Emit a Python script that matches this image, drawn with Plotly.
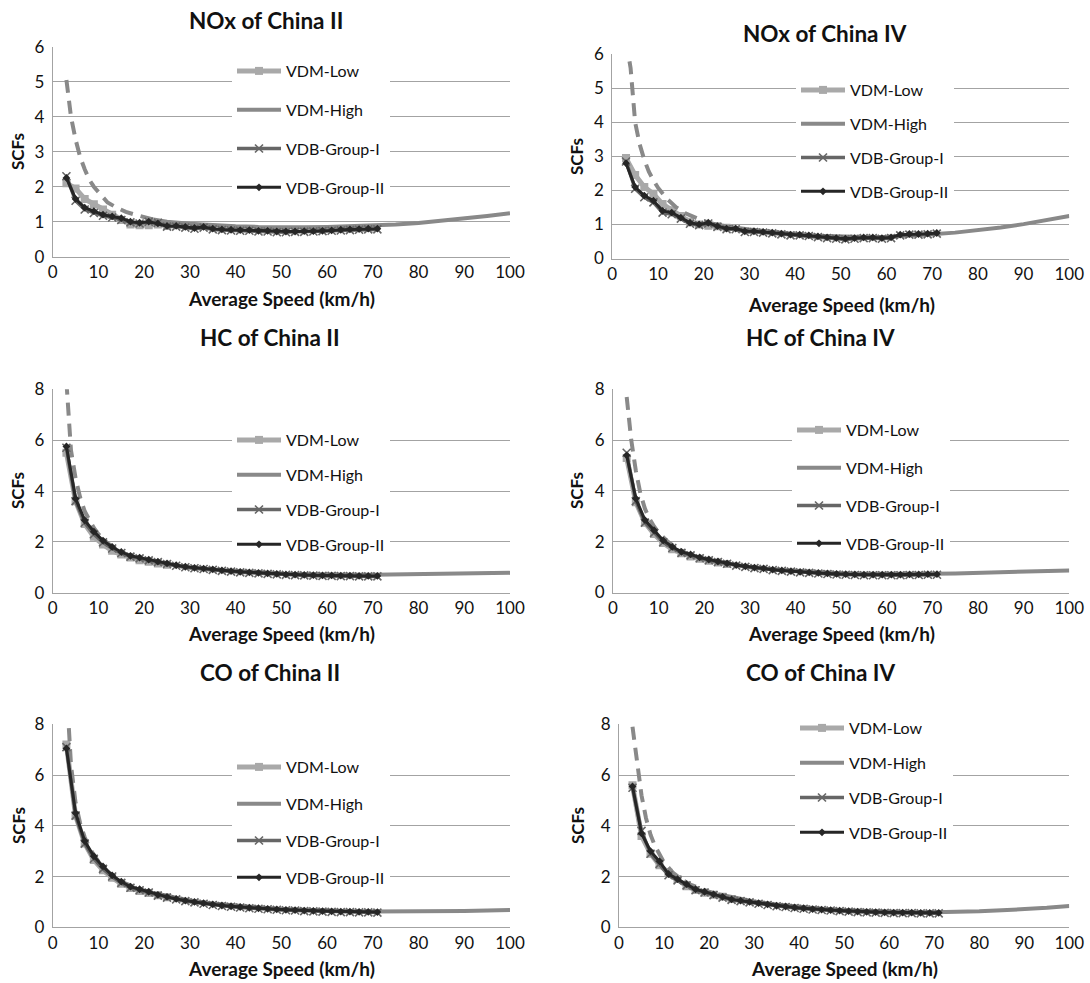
import plotly.graph_objects as go

# ---------------- data ----------------
speed_vdb = list(range(3, 72, 2))          # 3..71
speed_low = list(range(3, 26, 2))          # 3..25
speed_high = [3, 4, 5, 6, 7, 8, 9, 10, 12, 14, 16, 18, 20, 22, 25, 30, 35, 40,
              45, 50, 55, 60, 65, 70, 75, 80, 85, 90, 95, 100]

series_names = ["VDM-Low", "VDM-High", "VDB-Group-I", "VDB-Group-II"]

titles = ["NOx of China II", "NOx of China IV", "HC of China II",
          "HC of China IV", "CO of China II", "CO of China IV"]
y_max = [6, 6, 8, 8, 8, 8]
y_step = [1, 1, 2, 2, 2, 2]

# NOx China II
nox2_low = [2.1, 1.95, 1.65, 1.5, 1.35, 1.2, 1.05, 0.92, 0.9, 0.9, 0.92, 0.88]
nox2_high = [5.05, 4.0, 3.35, 2.85, 2.5, 2.2, 2.0, 1.85, 1.55, 1.4, 1.28, 1.2, 1.12, 1.06,
             1.0, 0.94, 0.9, 0.87, 0.85, 0.84, 0.84, 0.85, 0.87, 0.89, 0.92, 0.96, 1.02,
             1.09, 1.16, 1.24]
nox2_g1 = [2.3, 1.6, 1.35, 1.25, 1.17, 1.12, 1.05, 0.98, 0.95, 1.0, 0.97, 0.86, 0.86, 0.83,
           0.8, 0.83, 0.78, 0.76, 0.75, 0.74, 0.74, 0.72, 0.72, 0.7, 0.7, 0.71, 0.71, 0.72,
           0.73, 0.74, 0.75, 0.76, 0.77, 0.78, 0.78]
nox2_g2 = [2.25, 1.65, 1.4, 1.3, 1.2, 1.15, 1.1, 1.0, 0.97, 1.0, 0.95, 0.88, 0.88, 0.85,
           0.82, 0.85, 0.8, 0.78, 0.77, 0.76, 0.76, 0.74, 0.74, 0.72, 0.72, 0.72, 0.73,
           0.73, 0.74, 0.75, 0.77, 0.78, 0.79, 0.8, 0.8]

# NOx China IV
nox4_low = [2.95, 2.45, 2.1, 1.9, 1.6, 1.42, 1.25, 1.08, 1.0, 0.96, 0.95, 0.9]
nox4_high = [6.4, 5.6, 4.0, 3.35, 2.9, 2.55, 2.3, 2.08, 1.75, 1.5, 1.33, 1.2, 1.1, 1.02,
             0.94, 0.85, 0.78, 0.72, 0.67, 0.64, 0.63, 0.64, 0.67, 0.71, 0.76, 0.83, 0.91,
             1.01, 1.12, 1.25]
nox4_g1 = [2.85, 2.05, 1.8, 1.65, 1.35, 1.3, 1.17, 1.02, 0.98, 1.03, 0.93, 0.86, 0.86, 0.78,
           0.78, 0.76, 0.74, 0.71, 0.68, 0.68, 0.66, 0.63, 0.6, 0.58, 0.56, 0.58, 0.6, 0.6,
           0.58, 0.6, 0.68, 0.7, 0.7, 0.71, 0.73]
nox4_g2 = [2.8, 2.1, 1.85, 1.7, 1.4, 1.35, 1.2, 1.05, 1.0, 1.05, 0.95, 0.88, 0.88, 0.8,
           0.8, 0.78, 0.76, 0.73, 0.7, 0.7, 0.68, 0.65, 0.62, 0.6, 0.58, 0.6, 0.62, 0.62,
           0.6, 0.62, 0.7, 0.72, 0.72, 0.73, 0.75]

# HC China II
hc2_low = [5.5, 3.6, 2.7, 2.2, 1.9, 1.65, 1.5, 1.38, 1.28, 1.22, 1.15, 1.1]
hc2_high = [8.3, 5.6, 4.5, 3.75, 3.2, 2.85, 2.55, 2.3, 1.95, 1.7, 1.52, 1.4, 1.3, 1.22,
            1.12, 0.99, 0.9, 0.84, 0.79, 0.75, 0.73, 0.71, 0.71, 0.71, 0.72, 0.73, 0.74,
            0.75, 0.76, 0.78]
hc2_g1 = [5.7, 3.6, 2.75, 2.3, 1.98, 1.74, 1.56, 1.42, 1.35, 1.27, 1.2, 1.13, 1.06, 1.0,
          0.96, 0.93, 0.9, 0.86, 0.83, 0.8, 0.78, 0.76, 0.74, 0.72, 0.7, 0.69, 0.68, 0.67,
          0.66, 0.66, 0.65, 0.65, 0.64, 0.64, 0.64]
hc2_g2 = [5.75, 3.7, 2.85, 2.4, 2.05, 1.8, 1.6, 1.45, 1.38, 1.3, 1.22, 1.15, 1.08, 1.02,
          0.98, 0.95, 0.92, 0.88, 0.85, 0.82, 0.8, 0.78, 0.76, 0.74, 0.72, 0.71, 0.7, 0.69,
          0.68, 0.68, 0.67, 0.67, 0.66, 0.66, 0.66]

# HC China IV
hc4_low = [5.3, 3.55, 2.75, 2.3, 1.95, 1.7, 1.55, 1.42, 1.33, 1.25, 1.18, 1.12]
hc4_high = [7.7, 6.0, 4.8, 3.9, 3.3, 2.9, 2.6, 2.35, 2.0, 1.75, 1.55, 1.42, 1.32, 1.24,
            1.14, 1.0, 0.91, 0.85, 0.8, 0.76, 0.74, 0.73, 0.73, 0.74, 0.75, 0.77, 0.79,
            0.82, 0.84, 0.87]
hc4_g1 = [5.5, 3.6, 2.75, 2.35, 1.98, 1.75, 1.56, 1.46, 1.35, 1.27, 1.2, 1.13, 1.06, 1.01,
          0.96, 0.93, 0.88, 0.85, 0.82, 0.79, 0.77, 0.75, 0.73, 0.71, 0.7, 0.69, 0.68, 0.68,
          0.68, 0.68, 0.68, 0.69, 0.69, 0.7, 0.7]
hc4_g2 = [5.4, 3.7, 2.85, 2.45, 2.05, 1.8, 1.6, 1.5, 1.38, 1.3, 1.22, 1.15, 1.08, 1.03,
          0.98, 0.95, 0.9, 0.87, 0.84, 0.81, 0.79, 0.77, 0.75, 0.73, 0.72, 0.71, 0.7, 0.7,
          0.7, 0.7, 0.7, 0.71, 0.71, 0.72, 0.72]

# CO China II
co2_low = [7.2, 4.4, 3.3, 2.65, 2.25, 1.95, 1.72, 1.55, 1.43, 1.35, 1.26, 1.18]
co2_high = [9.5, 6.4, 4.9, 4.1, 3.55, 3.15, 2.85, 2.6, 2.2, 1.92, 1.72, 1.56, 1.44, 1.34,
            1.22, 1.06, 0.94, 0.85, 0.78, 0.72, 0.68, 0.65, 0.63, 0.62, 0.62, 0.62, 0.63,
            0.64, 0.66, 0.68]
co2_g1 = [7.1, 4.4, 3.3, 2.7, 2.3, 2.0, 1.75, 1.56, 1.46, 1.37, 1.25, 1.17, 1.1, 1.03,
          0.98, 0.93, 0.88, 0.84, 0.81, 0.78, 0.75, 0.73, 0.71, 0.69, 0.67, 0.66, 0.64,
          0.63, 0.62, 0.61, 0.6, 0.6, 0.59, 0.59, 0.58]
co2_g2 = [7.05, 4.5, 3.4, 2.8, 2.4, 2.05, 1.8, 1.6, 1.5, 1.4, 1.28, 1.2, 1.12, 1.05,
          1.0, 0.95, 0.9, 0.86, 0.83, 0.8, 0.77, 0.75, 0.73, 0.71, 0.69, 0.68, 0.66, 0.65,
          0.64, 0.63, 0.62, 0.62, 0.61, 0.61, 0.6]

# CO China IV
co4_low = [5.6, 3.6, 2.9, 2.45, 2.15, 1.9, 1.62, 1.47, 1.36, 1.28, 1.2, 1.12]
co4_high = [7.9, 6.5, 5.2, 4.3, 3.65, 3.2, 2.85, 2.55, 2.15, 1.87, 1.67, 1.52, 1.4, 1.3,
            1.18, 1.02, 0.9, 0.8, 0.73, 0.67, 0.63, 0.6, 0.59, 0.59, 0.6, 0.63, 0.67,
            0.71, 0.77, 0.84]
co4_g1 = [5.5, 3.8, 2.9, 2.5, 2.05, 1.85, 1.65, 1.46, 1.37, 1.27, 1.17, 1.08, 1.03, 0.98,
          0.93, 0.88, 0.83, 0.8, 0.76, 0.73, 0.7, 0.68, 0.66, 0.64, 0.62, 0.6, 0.59, 0.58,
          0.57, 0.56, 0.56, 0.56, 0.55, 0.55, 0.55]
co4_g2 = [5.55, 3.7, 3.0, 2.6, 2.1, 1.9, 1.7, 1.5, 1.4, 1.3, 1.2, 1.1, 1.05, 1.0,
          0.95, 0.9, 0.85, 0.82, 0.78, 0.75, 0.72, 0.7, 0.68, 0.66, 0.64, 0.62, 0.61, 0.6,
          0.59, 0.58, 0.58, 0.58, 0.57, 0.57, 0.57]

panel_data = [
    (nox2_low, nox2_high, nox2_g1, nox2_g2),
    (nox4_low, nox4_high, nox4_g1, nox4_g2),
    (hc2_low, hc2_high, hc2_g1, hc2_g2),
    (hc4_low, hc4_high, hc4_g1, hc4_g2),
    (co2_low, co2_high, co2_g1, co2_g2),
    (co4_low, co4_high, co4_g1, co4_g2),
]

# ---------------- layout geometry (pixels) ----------------
W, H = 1090, 983
# plot area: left, right, top, bottom
boxes = [
    (52.7, 510, 46.7, 256.7),
    (612.3, 1069.3, 54.3, 258.5),
    (52.7, 510, 389.3, 592.7),
    (613, 1069.3, 389.3, 592.5),
    (52.7, 510, 724.3, 927.3),
    (619, 1069.3, 724.3, 927.3),
]
title_pos = [(266, 20), (825, 33), (270, 337), (820, 337), (270, 672), (820, 672)]
xtitle_pos = [(281, 298), (841, 304), (281, 633), (841, 633), (281, 968), (844, 968)]
ytitle_pos = [(18, 152), (577, 157), (18, 491), (577, 491), (18, 826), (577, 826)]
legend_pos = [(232, 54), (796, 73), (232, 423), (792, 413), (232, 750), (795, 711)]
legend_gap = [15, 10, 11, 14, 13, 11]

col_low = "#A9A9A9"
col_high = "#898989"
col_g1 = "#666666"
col_g2 = "#262626"
grid_col = "#A3A3A3"
FONT = "Lato, Carlito, Calibri, sans-serif"

fig = go.Figure()
annotations = []
layout = {}

dash_limit = 22

for i, (lo, hi, g1, g2) in enumerate(panel_data):
    n = i + 1
    xa = "x" if n == 1 else f"x{n}"
    ya = "y" if n == 1 else f"y{n}"
    lg = "legend" if n == 1 else f"legend{n}"
    L, R, T, B = boxes[i]

    layout[f"xaxis{'' if n == 1 else n}"] = dict(
        domain=[L / W, R / W], anchor=ya, range=[0, 100], dtick=10, tick0=0,
        showgrid=False, zeroline=False, showline=True, linecolor=grid_col,
        linewidth=1, ticks="", tickfont=dict(family=FONT, size=17, color="#111"),
        automargin=False, fixedrange=True)
    layout[f"yaxis{'' if n == 1 else n}"] = dict(
        domain=[1 - B / H, 1 - T / H], anchor=xa, range=[0, y_max[i]],
        dtick=y_step[i], tick0=0, showgrid=True, gridcolor=grid_col, gridwidth=1,
        zeroline=False, showline=True, linecolor=grid_col, linewidth=1, ticks="",
        ticklabelstandoff=4, automargin=False,
        tickfont=dict(family=FONT, size=17, color="#111"), fixedrange=True)

    lx, ly = legend_pos[i]
    layout[lg] = dict(
        x=lx / W, y=1 - ly / H, xanchor="left", yanchor="top",
        bgcolor="white", borderwidth=0, itemwidth=44,
        font=dict(family=FONT, size=16, color="#111"),
        tracegroupgap=legend_gap[i], traceorder="grouped", itemclick=False,
        itemdoubleclick=False)

    # VDM-Low
    fig.add_trace(go.Scatter(
        x=speed_low, y=lo, name=series_names[0], mode="lines+markers",
        line=dict(color=col_low, width=5),
        marker=dict(symbol="square", size=8, color=col_low),
        xaxis=xa, yaxis=ya, legend=lg, legendgroup=f"a{n}"))
    # VDM-High: dashed in the low-speed range, solid beyond
    hx_d = [s for s in speed_high if s <= dash_limit]
    hy_d = [v for s, v in zip(speed_high, hi) if s <= dash_limit]
    hx_s = [s for s in speed_high if s >= dash_limit]
    hy_s = [v for s, v in zip(speed_high, hi) if s >= dash_limit]
    fig.add_trace(go.Scatter(
        x=hx_d, y=hy_d, name=series_names[1], mode="lines",
        line=dict(color=col_high, width=4, dash="13px,8px"),
        xaxis=xa, yaxis=ya, legend=lg, legendgroup=f"b{n}", showlegend=False))
    fig.add_trace(go.Scatter(
        x=hx_s, y=hy_s, name=series_names[1], mode="lines",
        line=dict(color=col_high, width=4),
        xaxis=xa, yaxis=ya, legend=lg, legendgroup=f"b{n}"))
    # VDB-Group-I
    fig.add_trace(go.Scatter(
        x=speed_vdb, y=g1, name=series_names[2], mode="lines+markers",
        line=dict(color=col_g1, width=3.5),
        marker=dict(symbol="x-thin-open", size=8, color=col_g1,
                    line=dict(color=col_g1, width=1.6)),
        xaxis=xa, yaxis=ya, legend=lg, legendgroup=f"c{n}"))
    # VDB-Group-II
    fig.add_trace(go.Scatter(
        x=speed_vdb, y=g2, name=series_names[3], mode="lines+markers",
        line=dict(color=col_g2, width=3),
        marker=dict(symbol="diamond", size=6, color=col_g2),
        xaxis=xa, yaxis=ya, legend=lg, legendgroup=f"d{n}"))

    tx, ty = title_pos[i]
    annotations.append(dict(text=f"<b>{titles[i]}</b>", x=tx / W, y=1 - ty / H,
                            xref="paper", yref="paper", showarrow=False,
                            xanchor="center", yanchor="middle",
                            font=dict(family=FONT, size=22.5, color="#111")))
    ax_, ay_ = xtitle_pos[i]
    annotations.append(dict(text="<b>Average Speed (km/h)</b>", x=ax_ / W, y=1 - ay_ / H,
                            xref="paper", yref="paper", showarrow=False,
                            xanchor="center", yanchor="middle",
                            font=dict(family=FONT, size=19, color="#111")))
    yx, yy = ytitle_pos[i]
    annotations.append(dict(text="<b>SCFs</b>", x=yx / W, y=1 - yy / H,
                            xref="paper", yref="paper", showarrow=False,
                            textangle=-90, xanchor="center", yanchor="middle",
                            font=dict(family=FONT, size=17, color="#111")))

fig.update_layout(
    width=W, height=H, margin=dict(l=0, r=0, t=0, b=0, autoexpand=False),
    paper_bgcolor="white", plot_bgcolor="white",
    annotations=annotations, **layout)

fig.write_html(
    "out.html",
    config={"displayModeBar": False},
    post_script="document.body.style.margin='0';"
                "document.body.style.overflow='hidden';")
